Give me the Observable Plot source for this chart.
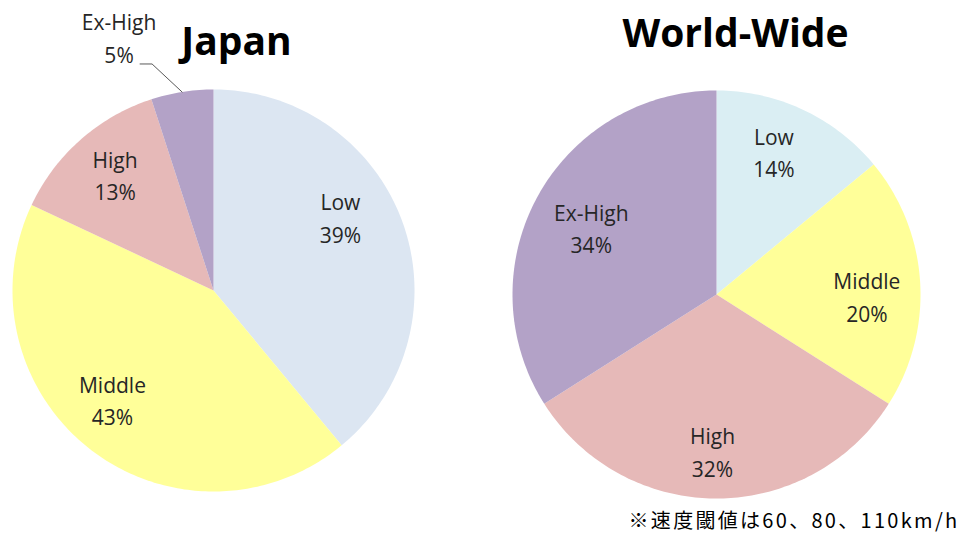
<!DOCTYPE html>
<html>
<head>
<meta charset="utf-8">
<script src="https://cdn.jsdelivr.net/npm/d3@7"></script>
<script src="https://cdn.jsdelivr.net/npm/@observablehq/plot@0.6"></script>
<style>
  html, body { margin: 0; padding: 0; background: #fff; }
  #chart svg { display: block; }
</style>
</head>
<body>
<div id="chart"></div>
<script>
// ---- data ----
const categories = ["Low", "Middle", "High", "Ex-High"];
const japanValues = [39, 43, 13, 5];
const worldValues = [14, 20, 32, 34];
const chartTitles = ["Japan", "World-Wide"];
const footnote = "※速度閾値は60、80、110km/h";

// ---- styles / layout ----
const japanColors = ["#dce6f2", "#ffff99", "#e6b9b8", "#b3a2c7"];
const worldColors = ["#daeef3", "#ffff99", "#e6b9b8", "#b3a2c7"];
const W = 959, H = 534;
const pies = [
  {name: chartTitles[0], values: japanValues, colors: japanColors, cx: 213, cy: 290, r: 201,
   titleX: 236, titleY: 42,
   nudge: [[4, -30], [-21, 5], [-12, -19], null],
   outside: [null, null, null, {dx: -63, dy: -56, leader: [[0, 0], [-30, -28], [-42, -28]]}]},
  {name: chartTitles[1], values: worldValues, colors: worldColors, cx: 716, cy: 294, r: 204,
   titleX: 735, titleY: 34,
   nudge: [[1, -24], [18, 9], [-4, 23], [-9, -4]],
   outside: [null, null, null, null]}
];
const labelFrac = 0.65;

const slicePts = [];
const labels = [];
const leaders = [];
pies.forEach((p, pi) => {
  const arcs = d3.pie().sort(null).value(d => d)(p.values);
  arcs.forEach((a, i) => {
    const key = p.name + "-" + categories[i];
    const steps = Math.max(2, Math.ceil((a.endAngle - a.startAngle) / (Math.PI / 180)));
    slicePts.push({key, x: p.cx, y: p.cy, color: p.colors[i]});
    for (let s = 0; s <= steps; s++) {
      const t = a.startAngle + (a.endAngle - a.startAngle) * s / steps;
      slicePts.push({key, x: p.cx + p.r * Math.sin(t), y: p.cy - p.r * Math.cos(t), color: p.colors[i]});
    }
    slicePts.push({key, x: p.cx, y: p.cy, color: p.colors[i]});
    const mid = (a.startAngle + a.endAngle) / 2;
    const text = categories[i] + "\n" + p.values[i] + "%";
    if (p.outside[i]) {
      const o = p.outside[i];
      const ax = p.cx + p.r * Math.sin(mid), ay = p.cy - p.r * Math.cos(mid);
      labels.push({x: ax + o.dx, y: ay + o.dy, text});
      o.leader.forEach(([dx, dy]) => leaders.push({key, x: ax + dx, y: ay + dy}));
    } else {
      const [dx, dy] = p.nudge[i];
      labels.push({
        x: p.cx + p.r * labelFrac * Math.sin(mid) + dx,
        y: p.cy - p.r * labelFrac * Math.cos(mid) + dy,
        text
      });
    }
  });
});

const titles = pies.map(p => ({x: p.titleX, y: p.titleY, text: p.name}));

const chart = Plot.plot({
  width: W, height: H,
  margin: 0,
  x: {domain: [0, W], range: [0, W], axis: null},
  y: {domain: [0, H], range: [0, H], axis: null},
  color: {type: "identity"},
  style: {background: "#fff"},
  marks: [
    Plot.line(slicePts, {x: "x", y: "y", z: "key", fill: "color", stroke: "none", curve: "linear"}),
    Plot.line(leaders, {x: "x", y: "y", z: "key", stroke: "#595959", strokeWidth: 1}),
    Plot.text(labels, {x: "x", y: "y", text: "text", fontFamily: "Open Sans", fontSize: 21,
      lineHeight: 1.55, lineAnchor: "middle", fill: "#262626", textAnchor: "middle"}),
    Plot.text(titles, {x: "x", y: "y", text: "text", fontFamily: "Open Sans", fontWeight: "bold",
      fontSize: 39, fill: "#000", textAnchor: "middle", lineAnchor: "middle"}),
    Plot.text([footnote], {x: () => 959, y: () => 521, text: d => d, fontFamily: "Noto Sans CJK JP",
      fontSize: 20, fill: "#000", textAnchor: "end", lineAnchor: "middle"})
  ]
});
d3.select(chart).selectAll("text")
  .filter(function() { return this.textContent === footnote; })
  .attr("letter-spacing", "2.3px")
  .style("letter-spacing", "2.3px");
document.getElementById("chart").appendChild(chart);
</script>
</body>
</html>
